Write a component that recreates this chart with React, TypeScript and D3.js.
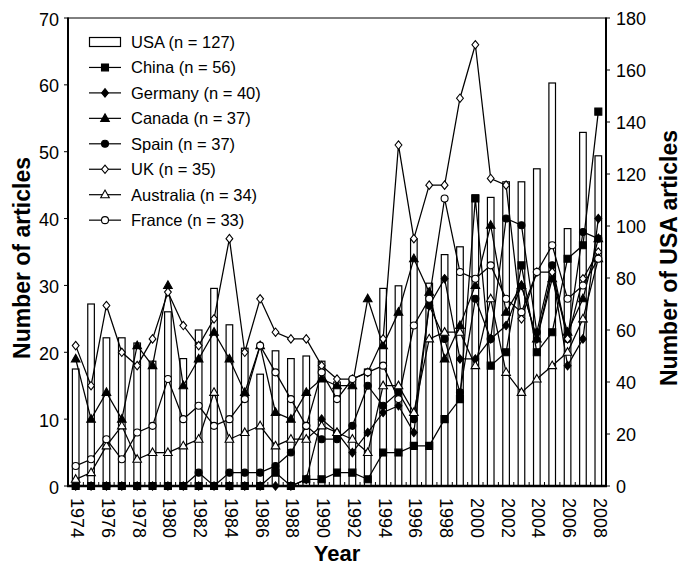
import React from 'react';
import * as d3 from 'd3';

const WIDTH = 682;
const HEIGHT = 566;
const PLOT = { left: 68, right: 606, top: 18, bottom: 486 };
const FONT = '"Liberation Sans", Arial, Helvetica, sans-serif';

const years = [
  1974, 1975, 1976, 1977, 1978, 1979, 1980, 1981, 1982, 1983, 1984, 1985,
  1986, 1987, 1988, 1989, 1990, 1991, 1992, 1993, 1994, 1995, 1996, 1997,
  1998, 1999, 2000, 2001, 2002, 2003, 2004, 2005, 2006, 2007, 2008,
];

// USA, read on the right axis
const usa = [45, 70, 57, 57, 55, 48, 67, 49, 60, 76, 62, 53, 43, 52, 49, 50, 48, 40, 41, 45, 76, 77, 95, 78, 89, 92, 112, 111, 117, 117, 122, 155, 99, 136, 127];

// the rest on the left axis
const china = [0, 0, 0, 0, 0, 0, 0, 0, 0, 0, 0, 0, 0, 2, 0, 1, 1, 2, 2, 1, 5, 5, 6, 6, 10, 13, 43, 18, 20, 33, 20, 23, 34, 36, 56];
const germany = [0, 0, 0, 0, 0, 0, 0, 0, 0, 0, 0, 0, 0, 0, 0, 1, 10, 8, 5, 8, 11, 12, 8, 27, 31, 19, 19, 22, 24, 30, 22, 32, 18, 22, 40];
const canada = [19, 10, 14, 10, 21, 18, 30, 15, 19, 23, 19, 14, 21, 11, 10, 14, 16, 15, 15, 28, 21, 26, 34, 29, 19, 24, 30, 39, 26, 30, 22, 31, 23, 28, 37];
const spain = [0, 0, 0, 0, 0, 0, 0, 0, 2, 0, 2, 2, 2, 3, 5, 9, 7, 7, 9, 15, 12, 14, 10, 27, 22, 14, 28, 22, 40, 39, 23, 33, 22, 38, 37];
const uk = [21, 15, 27, 20, 18, 22, 29, 24, 21, 25, 37, 20, 28, 23, 22, 22, 18, 16, 16, 17, 22, 51, 37, 45, 45, 58, 66, 46, 45, 25, 32, 32, 22, 31, 35];
const australia = [1, 2, 6, 9, 4, 5, 5, 6, 7, 14, 7, 8, 9, 6, 7, 7, 9, 8, 7, 5, 15, 15, 11, 22, 23, 23, 18, 28, 17, 14, 16, 18, 20, 25, 34];
const france = [3, 4, 7, 4, 8, 9, 16, 10, 12, 9, 10, 13, 21, 17, 13, 9, 17, 13, 16, 17, 18, 13, 24, 28, 43, 32, 31, 33, 28, 26, 32, 36, 28, 30, 34];

const leftTicks = [0, 10, 20, 30, 40, 50, 60, 70];
const rightTicks = [0, 20, 40, 60, 80, 100, 120, 140, 160, 180];

type Shape = 'square' | 'diamond' | 'triangle' | 'circle';

interface Series {
  label: string;
  values: number[];
  shape: Shape;
  filled: boolean;
}

const series: Series[] = [
  { label: 'China (n = 56)', values: china, shape: 'square', filled: true },
  { label: 'Germany (n = 40)', values: germany, shape: 'diamond', filled: true },
  { label: 'Canada (n = 37)', values: canada, shape: 'triangle', filled: true },
  { label: 'Spain (n = 37)', values: spain, shape: 'circle', filled: true },
  { label: 'UK (n = 35)', values: uk, shape: 'diamond', filled: false },
  { label: 'Australia (n = 34)', values: australia, shape: 'triangle', filled: false },
  { label: 'France (n = 33)', values: france, shape: 'circle', filled: false },
];

const markerPath = (shape: Shape) => {
  switch (shape) {
    case 'square':
      return 'M-3.5,-3.5H3.5V3.5H-3.5Z';
    case 'diamond':
      return 'M0,-4.2L3.4,0L0,4.2L-3.4,0Z';
    case 'triangle':
      return 'M0,-4.6L4.3,3L-4.3,3Z';
    default:
      return d3.arc()({ innerRadius: 0, outerRadius: 3.5, startAngle: 0, endAngle: 2 * Math.PI }) as string;
  }
};

const Marker = ({ s, x, y }: { s: Series; x: number; y: number }) => (
  <path
    d={markerPath(s.shape)}
    transform={`translate(${x},${y})`}
    fill={s.filled ? '#000' : '#fff'}
    stroke="#000"
    strokeWidth={1.1}
  />
);

const App = () => {
  const x = d3
    .scaleBand<number>()
    .domain(years)
    .range([PLOT.left, PLOT.right])
    .padding(0);
  const cx = (yr: number) => (x(yr) as number) + x.bandwidth() / 2;
  const yLeft = d3.scaleLinear().domain([0, 70]).range([PLOT.bottom, PLOT.top]);
  const yRight = d3.scaleLinear().domain([0, 180]).range([PLOT.bottom, PLOT.top]);

  const line = d3
    .line<number>()
    .x((_, i) => cx(years[i]))
    .y((v) => yLeft(v));

  const barW = 6.6;
  const legendY = (i: number) => 42 + i * 25.45;
  const titleY = 258;

  return (
    <svg
      width={WIDTH}
      height={HEIGHT}
      style={{ position: 'absolute', left: 0, top: 0, background: '#fff' }}
      fontFamily={FONT}
    >
      {/* USA bars */}
      {usa.map((v, i) => (
        <rect
          key={years[i]}
          x={cx(years[i]) - barW / 2}
          y={yRight(v)}
          width={barW}
          height={PLOT.bottom - yRight(v)}
          fill="#fff"
          stroke="#000"
          strokeWidth={1.2}
        />
      ))}

      {/* lines */}
      {series.map((s) => (
        <path key={s.label} d={line(s.values) as string} fill="none" stroke="#000" strokeWidth={1.25} />
      ))}
      {series.map((s) =>
        s.values.map((v, i) => <Marker key={`${s.label}-${i}`} s={s} x={cx(years[i])} y={yLeft(v)} />)
      )}

      {/* frame and axes */}
      <line x1={PLOT.left} x2={PLOT.right} y1={PLOT.top} y2={PLOT.top} stroke="#000" strokeWidth={1} />
      <line x1={PLOT.left} x2={PLOT.left} y1={PLOT.top - 0.5} y2={PLOT.bottom} stroke="#000" strokeWidth={2} />
      <line x1={PLOT.right} x2={PLOT.right} y1={PLOT.top - 0.5} y2={PLOT.bottom} stroke="#000" strokeWidth={2} />
      <line x1={PLOT.left - 1} x2={PLOT.right + 1} y1={PLOT.bottom} y2={PLOT.bottom} stroke="#000" strokeWidth={2.4} />

      {/* x ticks at slot boundaries */}
      {years.slice(1).map((yr) => (
        <line key={yr} x1={x(yr)} x2={x(yr)} y1={PLOT.bottom} y2={PLOT.bottom - 4} stroke="#000" strokeWidth={1} />
      ))}
      {years
        .filter((yr) => (yr - 1974) % 2 === 0)
        .map((yr) => (
          <text
            key={yr}
            transform={`translate(${cx(yr) + 1.5},${498}) rotate(90)`}
            dominantBaseline="central"
            fontSize={18}
          >
            {yr}
          </text>
        ))}

      {/* left axis */}
      {leftTicks.map((t) => (
        <g key={t}>
          <line x1={PLOT.left - 4} x2={PLOT.left} y1={yLeft(t)} y2={yLeft(t)} stroke="#000" strokeWidth={1} />
          <text x={59} y={yLeft(t) + 7.5} textAnchor="end" fontSize={18}>
            {t}
          </text>
        </g>
      ))}

      {/* right axis */}
      {rightTicks.map((t) => (
        <g key={t}>
          <line x1={PLOT.right} x2={PLOT.right + 4} y1={yRight(t)} y2={yRight(t)} stroke="#000" strokeWidth={1} />
          <text x={616} y={yRight(t) + 6.5} fontSize={18}>
            {t}
          </text>
        </g>
      ))}

      {/* axis titles */}
      <text
        transform={`translate(30,${titleY}) rotate(-90)`}
        textAnchor="middle"
        fontSize={23}
        fontWeight="bold"
      >
        Number of articles
      </text>
      <text
        transform={`translate(677,${titleY}) rotate(-90)`}
        textAnchor="middle"
        fontSize={23}
        fontWeight="bold"
      >
        Number of USA articles
      </text>
      <text x={(PLOT.left + PLOT.right) / 2} y={561} textAnchor="middle" fontSize={22} fontWeight="bold">
        Year
      </text>

      {/* legend */}
      <g>
        <rect x={89.5} y={legendY(0) - 4.5} width={31} height={9} fill="#fff" stroke="#000" strokeWidth={1.2} />
        <text x={131} y={legendY(0)} dominantBaseline="central" fontSize={16.5}>
          USA (n = 127)
        </text>
        {series.map((s, i) => (
          <g key={s.label}>
            <line x1={89} x2={121} y1={legendY(i + 1)} y2={legendY(i + 1)} stroke="#000" strokeWidth={1.2} />
            <Marker s={s} x={105} y={legendY(i + 1)} />
            <text x={131} y={legendY(i + 1)} dominantBaseline="central" fontSize={16.5}>
              {s.label}
            </text>
          </g>
        ))}
      </g>
    </svg>
  );
};

export default App;
